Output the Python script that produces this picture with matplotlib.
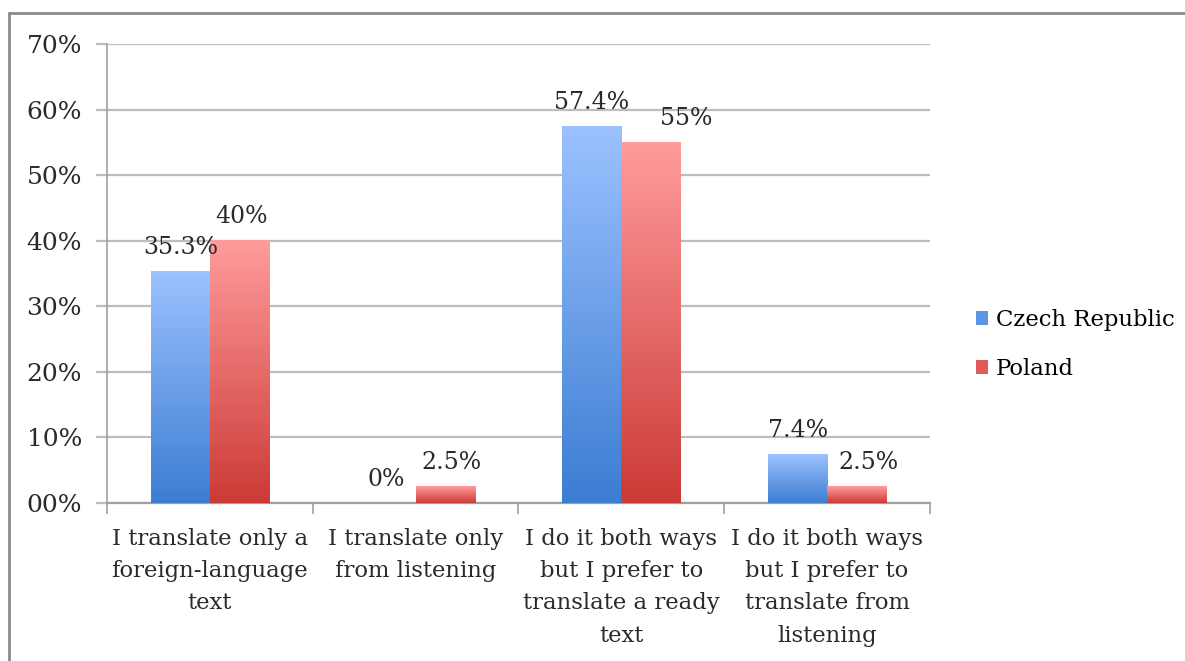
import numpy as np
import matplotlib.pyplot as plt
from matplotlib.colors import LinearSegmentedColormap
from matplotlib.patches import Rectangle

categories = ["I translate only a\nforeign-language\ntext",
              "I translate only\nfrom listening",
              "I do it both ways\nbut I prefer to\ntranslate a ready\ntext",
              "I do it both ways\nbut I prefer to\ntranslate from\nlistening"]
czech = [35.3, 0, 57.4, 7.4]
poland = [40, 2.5, 55, 2.5]
czech_labels = ["35.3%", "0%", "57.4%", "7.4%"]
poland_labels = ["40%", "2.5%", "55%", "2.5%"]
ytick_labels = ["00%", "10%", "20%", "30%", "40%", "50%", "60%", "70%"]

plt.rcParams['font.family'] = ['DejaVu Serif']
fig = plt.figure(figsize=(11.85, 6.61), dpi=100)
ax = fig.add_axes([0.0903, 0.239, 0.6945, 0.6944])

blue_cmap = LinearSegmentedColormap.from_list("b", ["#3c7dd2", "#9cc2ff"])
red_cmap = LinearSegmentedColormap.from_list("r", ["#cb3a36", "#ff9c9c"])
grad = np.linspace(0, 1, 256).reshape(-1, 1)

w = 0.287
x = np.arange(len(categories))


def gradient_bar(xc, h, cmap):
    if h <= 0:
        return
    ax.imshow(grad, extent=[xc - w / 2, xc + w / 2, 0, h], origin='lower',
              aspect='auto', cmap=cmap, zorder=3, interpolation='bicubic')


for i in range(len(categories)):
    gradient_bar(x[i] - w / 2, czech[i], blue_cmap)
    gradient_bar(x[i] + w / 2, poland[i], red_cmap)

# value labels above each bar
cz_dx = [0, 0, 0, 0]
pl_dx = [0.01, 0.03, 0.17, 0.06]
for i in range(len(categories)):
    ax.text(x[i] - w / 2 + cz_dx[i], czech[i] + 1.9, czech_labels[i],
            ha='center', va='bottom', fontsize=17, color='#2a2a2a', zorder=4)
    ax.text(x[i] + w / 2 + pl_dx[i], poland[i] + 1.9, poland_labels[i],
            ha='center', va='bottom', fontsize=17, color='#2a2a2a', zorder=4)

ax.set_xlim(-0.5, len(categories) - 0.5)
ax.set_ylim(0, 70)
ax.set_yticks(np.arange(0, 71, 10))
ax.set_yticklabels(ytick_labels, fontsize=18, color='#2a2a2a')
ax.yaxis.grid(True, color='#bdbdbd', linewidth=1.6, zorder=0)
ax.set_axisbelow(True)

ax.set_xticks(x)
ax.set_xticklabels(categories, fontsize=16.4, color='#2a2a2a', linespacing=1.6)
ax.set_xticks(np.arange(-0.5, len(categories), 1), minor=True)
ax.tick_params(axis='x', which='major', length=0, pad=18)
ax.tick_params(axis='x', which='minor', length=8, color='#a0a0a0', width=1.2)
ax.tick_params(axis='y', length=8, color='#bdbdbd', width=1.6, pad=10)

for s in ['top', 'right']:
    ax.spines[s].set_visible(False)
ax.spines['left'].set_color('#a0a0a0')
ax.spines['left'].set_linewidth(1.2)
ax.spines['bottom'].set_color('#a0a0a0')
ax.spines['bottom'].set_linewidth(1.6)

# legend swatches
handles = [Rectangle((0, 0), 1, 1, facecolor="#5c95e6"),
           Rectangle((0, 0), 1, 1, facecolor="#e05a5a")]
fig.legend(handles, ["Czech Republic", "Poland"], loc='center left',
           bbox_to_anchor=(0.806, 0.479), frameon=False, fontsize=16.4,
           handlelength=0.55, handleheight=0.55, handletextpad=0.35,
           labelspacing=1.2)

# outer chart border
fig.patches.append(Rectangle((9 / 1185, -0.1), 1.2, 1 - 13 / 661 + 0.1,
                             transform=fig.transFigure, fill=False,
                             edgecolor='#8a8a8a', linewidth=2))

fig.savefig("out.png", dpi=100)
plt.close(fig)
